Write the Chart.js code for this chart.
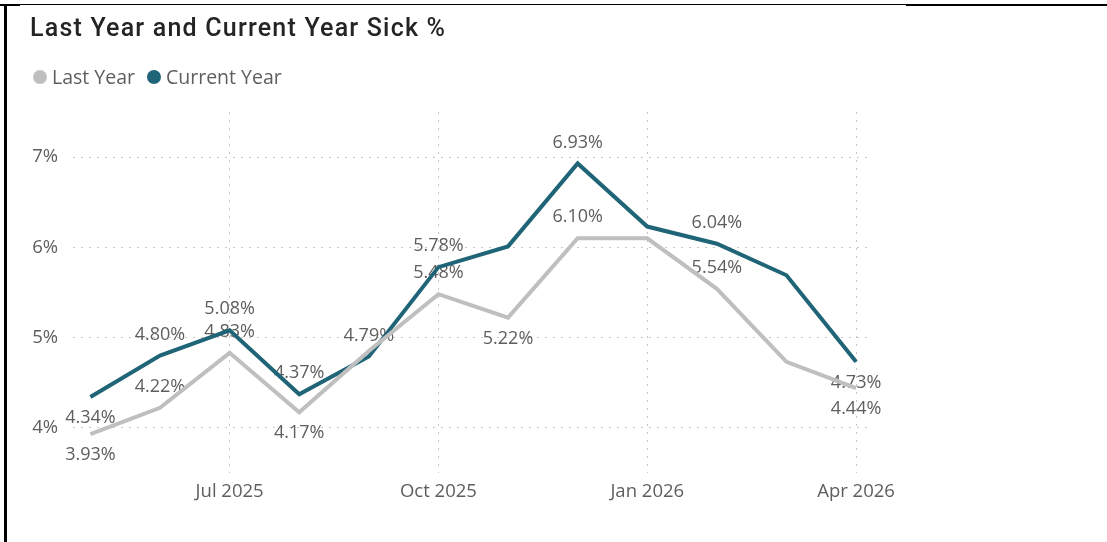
<!DOCTYPE html>
<html>
<head>
<meta charset="utf-8">
<script src="https://cdn.jsdelivr.net/npm/chart.js@4.4.1/dist/chart.umd.min.js"></script>
<style>
  html, body { margin: 0; padding: 0; background: #fff; }
  .frame { position: absolute; left: 0; top: 0; width: 1107px; height: 542px; }
  .edge_left { position: absolute; left: 4px; top: 4px; width: 3px; height: 538px; background: #000; }
  .edge_top { position: absolute; left: 0; top: 4px; width: 906px; height: 1px; background: #000; }
  .edge_top_a { position: absolute; left: 0; top: 4px; width: 20px; height: 2px; background: #000; }
  .edge_top_b { position: absolute; left: 906px; top: 4px; width: 201px; height: 2px; background: #000; }
  canvas { position: absolute; left: 0; top: 0; }
</style>
</head>
<body>
<div class="frame">
  <canvas id="chart" width="1107" height="542"></canvas>
  <div class="edge_top"></div>
  <div class="edge_top_a"></div>
  <div class="edge_top_b"></div>
  <div class="edge_left"></div>
</div>
<script>
const title = 'Last Year and Current Year Sick %'
const months = ['May 2025', 'Jun 2025', 'Jul 2025', 'Aug 2025', 'Sep 2025', 'Oct 2025',
                'Nov 2025', 'Dec 2025', 'Jan 2026', 'Feb 2026', 'Mar 2026', 'Apr 2026']
const last_year = [3.93, 4.22, 4.83, 4.17, 4.85, 5.48, 5.22, 6.10, 6.10, 5.54, 4.73, 4.44]
const current_year = [4.34, 4.80, 5.08, 4.37, 4.79, 5.78, 6.01, 6.93, 6.23, 6.04, 5.69, 4.73]
const y_ticks = [4, 5, 6, 7]
const x_ticks = [2, 5, 8, 11]   // Jul, Oct, Jan, Apr

// where Power BI put each data label (null = hidden)
const last_pos = ['below', 'above', 'above', 'below', null, 'above', 'below', 'above', null, 'above', null, 'below']
const current_pos = ['below', 'above', 'above', 'above', 'above', 'above', null, 'above', null, 'above', null, 'below']

const teal = '#1f6477'
const grey = '#bfbfbf'
const txt = '#605e5c'
const font_face = '"Segoe UI", "Open Sans", sans-serif'

const to_points = arr => arr.map((v, i) => ({x: i, y: v}))

const labels_plugin = {
    id: 'point_labels',
    beforeDatasetsDraw(chart){
        const ctx = chart.ctx
        ctx.save()
        ctx.font = `18px ${font_face}`
        ctx.fillStyle = txt
        ctx.textAlign = 'center'
        ctx.textBaseline = 'middle'
        chart.data.datasets.forEach((ds, di) => {
            const meta = chart.getDatasetMeta(di)
            meta.data.forEach((pt, i) => {
                const pos = ds.label_pos[i]
                if (!pos) return
                const dy = pos == 'above' ? -21 : 21
                ctx.fillText(ds.data[i].y.toFixed(2) + '%', pt.x, pt.y + dy)
            })
        })
        ctx.restore()
    }
}

const header_plugin = {
    id: 'header',
    afterDraw(chart){
        const ctx = chart.ctx
        ctx.save()
        ctx.textAlign = 'left'
        ctx.textBaseline = 'alphabetic'
        ctx.fillStyle = '#252423'
        ctx.font = `500 25px Roboto, sans-serif`
        ctx.letterSpacing = '1.2px'
        ctx.fillText(title, 30, 36)
        ctx.letterSpacing = '0px'

        ctx.font = `19.5px ${font_face}`
        let x = 33
        chart.data.datasets.forEach(ds => {
            ctx.fillStyle = ds.borderColor
            ctx.beginPath()
            ctx.arc(x + 7, 77, 7, 0, Math.PI * 2)
            ctx.fill()
            ctx.fillStyle = txt
            ctx.fillText(ds.label, x + 19, 84)
            x += 19 + ctx.measureText(ds.label).width + 12
        })
        ctx.restore()
    }
}

const grid_dash = {
    color: '#c8c6c4',
    lineWidth: 1,
    drawTicks: false
}

new Chart(document.getElementById('chart'), {
    type: 'line',
    data: {
        datasets: [
            {
                label: 'Last Year',
                data: to_points(last_year),
                borderColor: grey,
                backgroundColor: grey,
                borderWidth: 4,
                pointRadius: 0,
                tension: 0,
                label_pos: last_pos
            },
            {
                label: 'Current Year',
                data: to_points(current_year),
                borderColor: teal,
                backgroundColor: teal,
                borderWidth: 4,
                pointRadius: 0,
                tension: 0,
                label_pos: current_pos
            }
        ]
    },
    options: {
        responsive: false,
        animation: false,
        events: [],
        layout: {padding: {left: 30, right: 237, top: 112, bottom: 31}},
        plugins: {legend: {display: false}, title: {display: false}, tooltip: {enabled: false}},
        scales: {
            x: {
                type: 'linear',
                min: -0.25,
                max: 11.2,
                afterBuildTicks: axis => { axis.ticks = x_ticks.map(v => ({value: v})) },
                ticks: {
                    callback: v => months[v],
                    color: txt,
                    font: {family: font_face, size: 18.5},
                    padding: 8,
                    maxRotation: 0,
                    autoSkip: false
                },
                grid: grid_dash,
                border: {display: false, dash: [2, 6]}
            },
            y: {
                min: 3.5,
                max: 7.5,
                afterBuildTicks: axis => { axis.ticks = y_ticks.map(v => ({value: v})) },
                afterFit: axis => { axis.width = 43 },
                ticks: {
                    callback: v => v + '%',
                    color: txt,
                    font: {family: font_face, size: 18.5},
                    padding: 15
                },
                grid: grid_dash,
                border: {display: false, dash: [2, 6]}
            }
        }
    },
    plugins: [labels_plugin, header_plugin]
})
</script>
</body>
</html>
